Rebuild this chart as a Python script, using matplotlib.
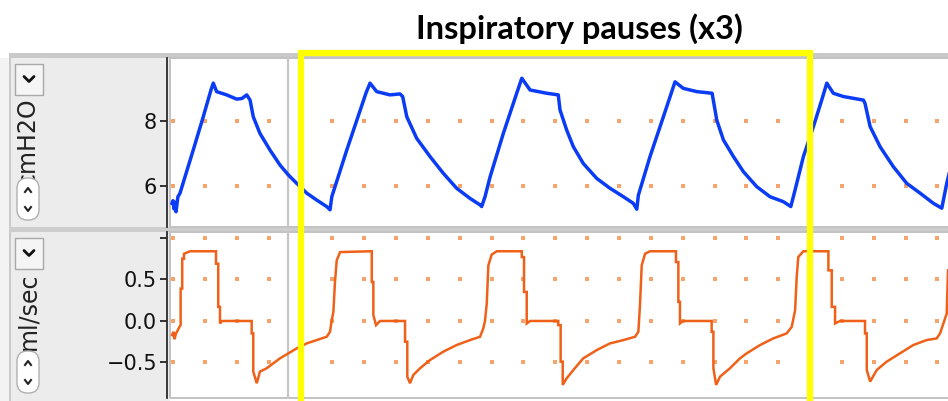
import numpy as np
import matplotlib
matplotlib.use("Agg")
import matplotlib.pyplot as plt
from matplotlib.patches import Rectangle, FancyBboxPatch
from matplotlib.lines import Line2D
from matplotlib.transforms import blended_transform_factory

# ---------------------------------------------------------------- data
title = "Inspiratory pauses (x3)"
pressure_unit = "cmH2O"
flow_unit = "ml/sec"

# airway pressure trace (time in s, cmH2O)
pressure_t = [-0.006, 0.000, 0.006, 0.013, 0.019, 0.025, 0.031, 0.044, 0.127, 0.190,
              0.239, 0.253, 0.274, 0.337, 0.400, 0.433, 0.463, 0.484, 0.504, 0.546,
              0.609, 0.672, 0.724, 0.777, 0.840, 0.902, 0.965, 0.986, 0.997, 1.091,
              1.174, 1.212, 1.237, 1.279, 1.363, 1.425, 1.442, 1.468, 1.530, 1.614,
              1.697, 1.781, 1.865, 1.928, 1.938, 1.959, 1.991, 2.074, 2.158, 2.190,
              2.242, 2.347, 2.419, 2.430, 2.472, 2.514, 2.576, 2.661, 2.744, 2.828,
              2.890, 2.912, 2.922, 2.995, 3.079, 3.152, 3.204, 3.289, 3.385, 3.414,
              3.456, 3.519, 3.581, 3.665, 3.749, 3.832, 3.879, 3.906, 3.958, 4.021,
              4.073, 4.105, 4.146, 4.209, 4.335, 4.345, 4.377, 4.440, 4.523, 4.607,
              4.691, 4.774, 4.827, 4.858, 4.879]
pressure_cmh2o = [5.47, 5.55, 5.30, 5.50, 5.21, 5.45, 5.67, 5.78, 7.10, 8.12,
                  8.95, 9.15, 8.89, 8.79, 8.66, 8.68, 8.79, 8.63, 8.12, 7.61,
                  7.10, 6.64, 6.34, 6.08, 5.78, 5.57, 5.37, 5.27, 5.67, 7.10,
                  8.30, 8.85, 9.15, 8.89, 8.79, 8.82, 8.74, 8.12, 7.46, 6.90,
                  6.39, 5.93, 5.62, 5.42, 5.37, 5.67, 6.28, 7.61, 8.84, 9.30,
                  8.94, 8.84, 8.79, 8.33, 7.71, 7.20, 6.69, 6.23, 5.93, 5.67,
                  5.47, 5.29, 5.72, 6.90, 8.12, 9.19, 8.99, 8.89, 8.84, 8.02,
                  7.41, 6.90, 6.44, 5.98, 5.67, 5.52, 5.37, 5.88, 6.90, 7.82,
                  8.63, 9.15, 8.84, 8.74, 8.63, 8.53, 7.82, 7.20, 6.59, 6.08,
                  5.78, 5.47, 5.32, 6.08, 6.50]

# flow trace (time in s, ml/sec)
flow_t = [-0.006, 0.003, 0.009, 0.019, 0.028, 0.038, 0.048, 0.048, 0.058, 0.058,
          0.069, 0.069, 0.107, 0.270, 0.270, 0.284, 0.284, 0.295, 0.295, 0.308,
          0.494, 0.494, 0.504, 0.504, 0.526, 0.546, 0.588, 0.630, 0.672, 0.724,
          0.777, 0.840, 0.902, 0.965, 0.986, 0.995, 1.007, 1.017, 1.028, 1.049,
          1.248, 1.248, 1.258, 1.258, 1.275, 1.300, 1.457, 1.457, 1.471, 1.471,
          1.488, 1.509, 1.551, 1.614, 1.697, 1.781, 1.865, 1.928, 1.948, 1.959,
          1.970, 1.980, 2.001, 2.033, 2.190, 2.190, 2.204, 2.204, 2.221, 2.221,
          2.242, 2.419, 2.419, 2.434, 2.434, 2.447, 2.447, 2.472, 2.514, 2.576,
          2.661, 2.744, 2.828, 2.901, 2.922, 2.932, 2.943, 2.964, 2.995, 3.158,
          3.158, 3.173, 3.173, 3.183, 3.183, 3.202, 3.382, 3.382, 3.393, 3.393,
          3.410, 3.435, 3.497, 3.560, 3.602, 3.686, 3.769, 3.853, 3.885, 3.906,
          3.916, 3.926, 3.958, 4.115, 4.115, 4.136, 4.136, 4.157, 4.157, 4.188,
          4.345, 4.345, 4.356, 4.356, 4.377, 4.419, 4.481, 4.565, 4.648, 4.732,
          4.795, 4.816, 4.837, 4.858, 4.866]
flow_mls = [-0.17, -0.13, -0.22, -0.15, -0.12, -0.08, -0.05, 0.39, 0.39, 0.75,
            0.75, 0.81, 0.84, 0.84, 0.69, 0.69, 0.17, 0.17, -0.03, 0.00,
            0.00, -0.15, -0.15, -0.61, -0.75, -0.61, -0.57, -0.51, -0.45, -0.39,
            -0.33, -0.27, -0.23, -0.19, -0.13, -0.01, 0.11, 0.47, 0.73, 0.83,
            0.84, 0.47, 0.47, 0.07, -0.05, 0.00, 0.00, -0.25, -0.25, -0.67,
            -0.75, -0.65, -0.57, -0.47, -0.37, -0.29, -0.23, -0.19, -0.09, 0.00,
            0.21, 0.67, 0.80, 0.84, 0.84, 0.77, 0.77, 0.35, 0.35, -0.03,
            0.00, 0.00, -0.05, -0.05, -0.49, -0.49, -0.77, -0.69, -0.59, -0.45,
            -0.35, -0.27, -0.23, -0.19, -0.13, 0.19, 0.67, 0.81, 0.84, 0.84,
            0.71, 0.71, 0.23, 0.23, -0.03, 0.00, 0.00, -0.13, -0.13, -0.57,
            -0.77, -0.67, -0.57, -0.45, -0.39, -0.29, -0.21, -0.15, -0.07, 0.13,
            0.53, 0.77, 0.84, 0.84, 0.61, 0.61, 0.17, 0.17, -0.03, 0.00,
            0.00, -0.15, -0.15, -0.59, -0.73, -0.59, -0.49, -0.39, -0.29, -0.23,
            -0.21, -0.15, -0.03, 0.09, 0.61]

pressure_ticks = [6, 8]
pressure_tick_labels = ["6", "8"]
flow_ticks = [-0.5, 0.0, 0.5, 1.0]
flow_tick_labels = ["\u22120.5", "0.0", "0.5", ""]

pause_window = [0.804, 3.997]   # span covering the three paused breaths
cursor_t = 0.724                # position of the grey cursor line
grid_step = 0.2                 # seconds between grid dots

# ---------------------------------------------------------------- layout
W, H = 948, 401
fig = plt.figure(figsize=(W / 100, H / 100), dpi=100, facecolor="white")


def fx(px):
    return px / W


def fy(py):
    return 1 - py / H


def rect_px(x0, y0, x1, y1, **kw):
    r = Rectangle((fx(x0), fy(y1)), fx(x1) - fx(x0), fy(y0) - fy(y1),
                  transform=fig.transFigure, **kw)
    fig.add_artist(r)
    return r


# side panel and separator bars
rect_px(0, 58, 170, 401, facecolor="#ececec", edgecolor="none", zorder=-5)
rect_px(0, 58, 9, 401, facecolor="#f3f3f3", edgecolor="none", zorder=-5)
fig.add_artist(Line2D([fx(9.5), fx(9.5)], [fy(58), 0], transform=fig.transFigure,
                      color="#c4c4c4", lw=1.2, zorder=-4))
rect_px(9, 53, 948, 58, facecolor="#c9c9c9", edgecolor="none", zorder=-4)
rect_px(9, 227, 948, 232, facecolor="#cdcdcd", edgecolor="none", zorder=-4)

t_left, t_right = -0.0188, 4.866

ax_p = fig.add_axes([fx(170), fy(227), 1 - fx(170), (227 - 58) / H])
ax_f = fig.add_axes([fx(170), fy(398), 1 - fx(170), (398 - 232) / H])
ax_p.set_ylim(4.744, 9.920)
ax_f.set_ylim(-0.928, 1.072)

grid_x = np.arange(0, t_right, grid_step)

for ax, ticks, labels in ((ax_p, pressure_ticks, pressure_tick_labels),
                          (ax_f, flow_ticks, flow_tick_labels)):
    ax.set_xlim(t_left, t_right)
    ax.set_facecolor("white")
    gx, gy = np.meshgrid(grid_x, ticks)
    ax.scatter(gx.ravel(), gy.ravel(), marker="s", s=5, color="#f6a46c",
               linewidths=0, zorder=1)
    ax.axvline(cursor_t, color="#c6c6c6", lw=1.6, zorder=1)
    ax.set_xticks([])
    ax.set_yticks(ticks)
    ax.set_yticklabels(labels)
    ax.tick_params(axis="y", length=5, width=1.3, color="#222222", pad=2,
                   labelsize=15, labelcolor="#111111")
    for lab in ax.get_yticklabels():
        lab.set_family("DejaVu Sans")
    for side in ("top", "right", "bottom"):
        ax.spines[side].set_visible(False)
    ax.spines["left"].set_position(("outward", 2.2))
    ax.spines["left"].set_color("#2a2a2a")
    ax.spines["left"].set_linewidth(1.3)
    ax.add_patch(Rectangle((0, 0), 1.2, 1, transform=ax.transAxes, fill=False,
                           edgecolor="#c2c2c2", lw=1.4, clip_on=False, zorder=0.5))

ax_p.plot(pressure_t, pressure_cmh2o, color="#0b3cf5", lw=2.5,
          solid_joinstyle="round", zorder=3)
ax_f.plot(flow_t, flow_mls, color="#ef6118", lw=1.8,
          solid_joinstyle="miter", zorder=3)

# channel controls on the left
def dropdown(y0, y1):
    rect_px(15, y0, 43, y1, facecolor="#f5f5f5", edgecolor="#a8a8a8", lw=1.0, zorder=2)
    yc = (y0 + y1) / 2
    fig.add_artist(Line2D([fx(24), fx(29), fx(34)], [fy(yc - 3), fy(yc + 2), fy(yc - 3)],
                          transform=fig.transFigure, color="#111111", lw=2.0,
                          solid_capstyle="round", zorder=3))


def scroller(y0, y1):
    box = FancyBboxPatch((fx(17), fy(y1)), fx(39) - fx(17), fy(y0) - fy(y1),
                         boxstyle="round,pad=0,rounding_size=0.011",
                         mutation_aspect=W / H,
                         transform=fig.transFigure, facecolor="white",
                         edgecolor="#b0b0b0", lw=1.0, zorder=4)
    fig.add_artist(box)
    yu = y0 + 12
    yd = y1 - 11
    fig.add_artist(Line2D([fx(25), fx(28), fx(31)], [fy(yu + 2), fy(yu - 2), fy(yu + 2)],
                          transform=fig.transFigure, color="#222222", lw=1.5, zorder=5))
    fig.add_artist(Line2D([fx(25), fx(28), fx(31)], [fy(yd - 2), fy(yd + 2), fy(yd - 2)],
                          transform=fig.transFigure, color="#222222", lw=1.5, zorder=5))


dropdown(64, 95)
scroller(178, 220)
dropdown(238, 269)
scroller(351, 393)

fig.text(fx(28), fy(97), pressure_unit, rotation=90, ha="center", va="top",
         fontsize=17, family="DejaVu Sans", color="#222222", zorder=3)
fig.text(fx(28), fy(272), flow_unit, rotation=90, ha="center", va="top",
         fontsize=17, family="DejaVu Sans", color="#222222", zorder=3)

# highlighted pause region spanning both channels
trans = blended_transform_factory(ax_p.transData, fig.transFigure)
fig.add_artist(Rectangle((pause_window[0], -0.1), pause_window[1] - pause_window[0],
                         fy(53) + 0.1, transform=trans, fill=False,
                         edgecolor="#ffff00", lw=4.5, clip_on=False, zorder=10))

fig.text(fx(579), fy(29), title, ha="center", va="center", fontsize=23.5,
         fontweight="bold", family="Lato", color="black")

fig.savefig("out.png", dpi=100, facecolor="white")
